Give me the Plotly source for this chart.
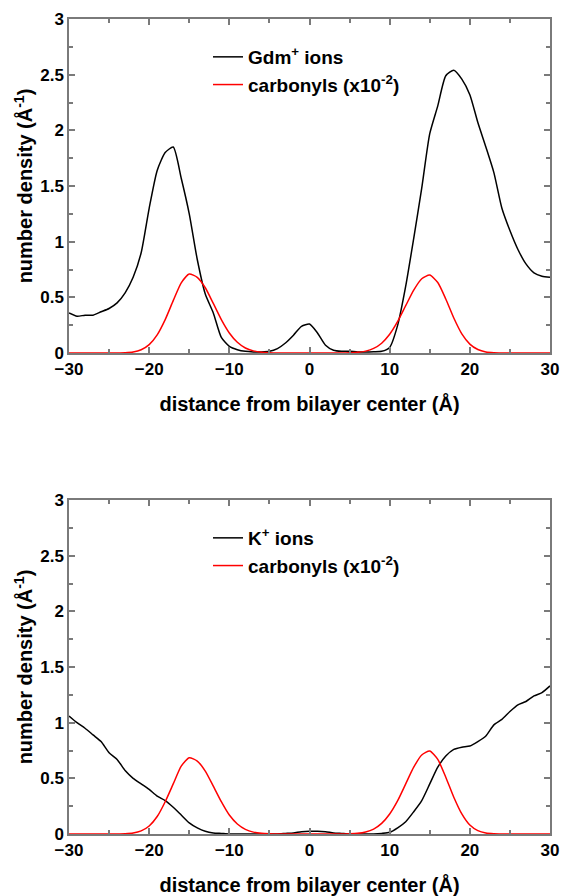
import plotly.graph_objects as go

# ---------------- data ----------------
x_int = list(range(-30, 31))

gdm_ions = [0.36, 0.33, 0.34, 0.34, 0.37, 0.40, 0.45, 0.54, 0.68, 0.90,
            1.30, 1.64, 1.80, 1.85, 1.57, 1.25, 0.84, 0.53, 0.36, 0.14,
            0.06, 0.03, 0.015, 0.01, 0.01, 0.015, 0.04, 0.09, 0.16, 0.24,
            0.26, 0.18, 0.07, 0.025, 0.015, 0.015, 0.01, 0.01, 0.012, 0.015,
            0.05, 0.25, 0.60, 1.03, 1.48, 1.97, 2.22, 2.49, 2.54, 2.46,
            2.32, 2.07, 1.85, 1.62, 1.30, 1.10, 0.93, 0.80, 0.72, 0.69,
            0.68]

carbonyl_top = [0, 0, 0, 0, 0, 0, 0.001, 0.003, 0.009, 0.029,
                0.075, 0.163, 0.30, 0.47, 0.63, 0.71, 0.68, 0.586, 0.445, 0.30,
                0.18, 0.096, 0.045, 0.019, 0.007, 0.002, 0, 0, 0, 0,
                0, 0, 0, 0, 0, 0.002, 0.006, 0.017, 0.041, 0.088,
                0.168, 0.283, 0.425, 0.565, 0.667, 0.70, 0.633, 0.485, 0.314, 0.172,
                0.080, 0.031, 0.0095, 0.003, 0.001, 0, 0, 0, 0, 0,
                0]

k_ions = [1.06, 1.00, 0.95, 0.89, 0.83, 0.73, 0.67, 0.57, 0.50, 0.45,
          0.40, 0.34, 0.30, 0.24, 0.17, 0.10, 0.055, 0.025, 0.01, 0.005,
          0, 0, 0, 0, 0, 0, 0, 0.005, 0.01, 0.02,
          0.025, 0.025, 0.02, 0.01, 0.005, 0, 0, 0, 0, 0.005,
          0.015, 0.055, 0.11, 0.20, 0.30, 0.45, 0.60, 0.70, 0.76, 0.78,
          0.79, 0.83, 0.88, 0.98, 1.03, 1.10, 1.16, 1.19, 1.24, 1.27,
          1.33]

carbonyl_bot = [0, 0, 0, 0, 0, 0, 0.001, 0.003, 0.009, 0.028,
                0.072, 0.157, 0.29, 0.45, 0.61, 0.685, 0.655, 0.565, 0.43, 0.29,
                0.17, 0.09, 0.042, 0.017, 0.006, 0.002, 0, 0, 0, 0,
                0, 0, 0, 0, 0, 0.002, 0.006, 0.018, 0.044, 0.095,
                0.18, 0.30, 0.45, 0.60, 0.71, 0.745, 0.67, 0.51, 0.33, 0.18,
                0.08, 0.03, 0.009, 0.003, 0.001, 0, 0, 0, 0, 0,
                0]

x_ticks = [-30, -20, -10, 0, 10, 20, 30]
y_ticks = [0, 0.5, 1, 1.5, 2, 2.5, 3]

# ---------------- figure ----------------
W, H = 561, 896
L, R, T, B = 69, 11, 19, 62
PH = H - T - B
FONT = "Liberation Sans, Arial, sans-serif"
FRAME = "#7a7a7a"

fig = go.Figure()

line_kw = dict(width=1.5, shape="spline", smoothing=0.6)
fig.add_trace(go.Scatter(x=x_int, y=gdm_ions, mode="lines", name="Gdm<sup>+</sup> ions",
                         line=dict(color="black", **line_kw),
                         xaxis="x", yaxis="y", legend="legend"))
fig.add_trace(go.Scatter(x=x_int, y=carbonyl_top, mode="lines", name="carbonyls (x10<sup>-2</sup>)",
                         line=dict(color="red", **line_kw),
                         xaxis="x", yaxis="y", legend="legend"))
fig.add_trace(go.Scatter(x=x_int, y=k_ions, mode="lines", name="K<sup>+</sup> ions",
                         line=dict(color="black", **line_kw),
                         xaxis="x2", yaxis="y2", legend="legend2"))
fig.add_trace(go.Scatter(x=x_int, y=carbonyl_bot, mode="lines", name="carbonyls (x10<sup>-2</sup>)",
                         line=dict(color="red", **line_kw),
                         xaxis="x2", yaxis="y2", legend="legend2"))

tickfont = dict(family=FONT, size=17, color="black", weight="bold")
titlefont = dict(family=FONT, size=20, color="black", weight="bold")

def xaxis(anchor):
    return dict(
        domain=[0, 1], anchor=anchor, range=[-30, 30], automargin=False,
        tickmode="array", tickvals=x_ticks, ticks="inside", ticklen=6, tickwidth=1.5,
        tickcolor=FRAME, showline=True, linecolor=FRAME, linewidth=1.5, mirror="ticks",
        showgrid=False, zeroline=False,
        minor=dict(dtick=5, tick0=-30, ticks="inside", ticklen=4, tickwidth=1.5, tickcolor=FRAME),
        tickfont=tickfont,
        title=dict(text="distance from bilayer center (Å)", standoff=19, font=titlefont),
    )

def yaxis(anchor, top_px, bot_px):
    return dict(
        domain=[(H - B - bot_px) / PH, (H - B - top_px) / PH], anchor=anchor, range=[0, 3],
        automargin=False,
        tickmode="array", tickvals=y_ticks, ticks="inside", ticklen=6, tickwidth=1.5,
        tickcolor=FRAME, showline=True, linecolor=FRAME, linewidth=1.5, mirror="ticks",
        showgrid=False, zeroline=False,
        minor=dict(dtick=0.25, tick0=0, ticks="inside", ticklen=4, tickwidth=1.5, tickcolor=FRAME),
        tickfont=tickfont,
        title=dict(text="number density (Å<sup>-1</sup>)", standoff=2, font=titlefont),
    )

leg_common = dict(font=dict(family=FONT, size=19, color="black", weight="bold"),
                  bgcolor="rgba(0,0,0,0)", borderwidth=0, xanchor="left", yanchor="top",
                  tracegroupgap=0, itemwidth=30)

fig.update_layout(
    width=W, height=H,
    margin=dict(l=L, r=R, t=T, b=B, autoexpand=False),
    paper_bgcolor="white", plot_bgcolor="white",
    xaxis=xaxis("y"),
    yaxis=yaxis("x", 19, 353),
    xaxis2=xaxis("y2"),
    yaxis2=yaxis("x2", 500, 834),
    legend=dict(x=(208 - L) / (W - L - R), y=(H - B - 38) / PH, **leg_common),
    legend2=dict(x=(208 - L) / (W - L - R), y=(H - B - 519) / PH, **leg_common),
    showlegend=True,
)

fig.write_html("out.html", config={"displayModeBar": False},
               post_script="document.body.style.margin='0';")
